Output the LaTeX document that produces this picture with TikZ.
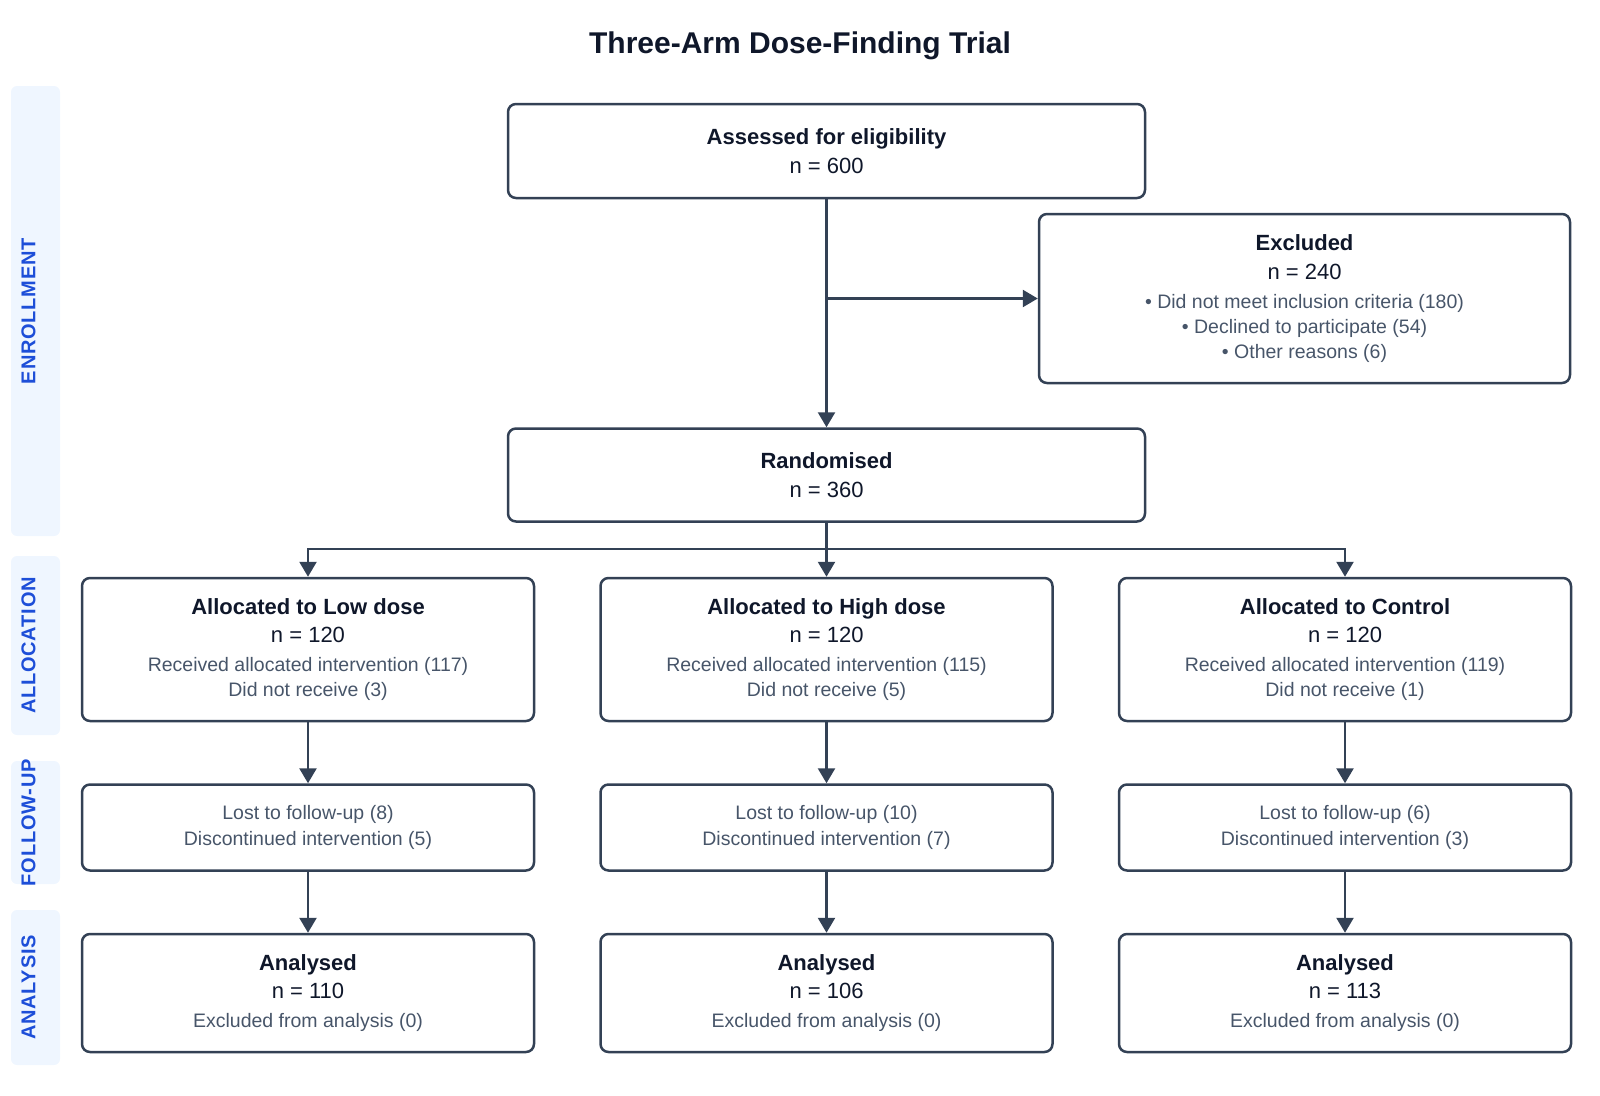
\documentclass[tikz,border=0pt]{standalone}
\usepackage{fontspec}
\setmainfont{Liberation Sans}
\newfontfamily\bandfont[LetterSpace=4]{Liberation Sans}
\definecolor{BoxLine}{RGB}{51,65,85}
\definecolor{HeadInk}{RGB}{15,23,42}
\definecolor{NoteInk}{RGB}{71,85,105}
\definecolor{BandFill}{RGB}{239,246,255}
\definecolor{BandInk}{RGB}{29,78,216}
\usetikzlibrary{arrows.meta,positioning}
\newcommand{\boxnote}[1]{{\color{NoteInk}\fontsize{19.5}{25.5}\selectfont #1}}

\begin{document}
\begin{tikzpicture}[
      x=1pt, y=-1pt,
      node distance=61pt and 64pt,
      every node/.style={font=\fontsize{22}{28.6}\selectfont, text=HeadInk},
      box/.style={rectangle, draw=BoxLine, line width=2.5pt, rounded corners=8pt,
                  align=center, inner sep=0pt},
      armbox/.style={box, minimum width=452pt, minimum height=143pt},
      fubox/.style={box, minimum width=452pt, minimum height=86pt, text=NoteInk,
                    font=\fontsize{19.5}{25.5}\selectfont},
      anbox/.style={box, minimum width=452pt, minimum height=118pt},
      band/.style={rectangle, fill=BandFill, rounded corners=6pt, minimum width=49pt},
      bandtext/.style={rotate=90, text=BandInk, font=\bandfont\fontsize{20}{24}\selectfont\bfseries},
      arr/.style={-{Triangle[length=15pt, width=17pt]}, line width=2.5pt, BoxLine}
    ]
      \useasboundingbox (0,0) rectangle (1600,1095);

      % phase bands
      \node[band, minimum height=450pt] (enroll) at (35.5,311) {};
      \node[band, minimum height=179pt] (alloc) at (35.5,645.5) {};
      \node[band, minimum height=123pt] (follow) at (35.5,822.5) {};
      \node[band, minimum height=155pt] (anal) at (35.5,987.5) {};
      \node[bandtext] (enrolltxt) at ([xshift=-7pt]enroll.center) {ENROLLMENT};
      \node[bandtext] (alloctxt) at ([xshift=-7pt]alloc.center) {ALLOCATION};
      \node[bandtext] (followtxt) at ([xshift=-7pt]follow.center) {FOLLOW-UP};
      \node[bandtext] (analtxt) at ([xshift=-7pt]anal.center) {ANALYSIS};

      \node[font=\fontsize{30}{36}\selectfont\bfseries] (title) at (800,46) {Three-Arm Dose-Finding Trial};

      \node[box, minimum width=637pt, minimum height=94pt] (assess) at (826.5,151)
        {\textbf{Assessed for eligibility}\\n = 600};
      \node[box, minimum width=531pt, minimum height=169pt] (excl) at (1304.5,298.5)
        {\textbf{Excluded}\\n = 240\\\boxnote{• Did not meet inclusion criteria (180)}\\[-3.6pt]
         \boxnote{• Declined to participate (54)}\\[-3.6pt]\boxnote{• Other reasons (6)}};
      \node[box, minimum width=637pt, minimum height=93pt, below=228pt of assess] (rand)
        {\textbf{Randomised}\\n = 360};

      \node[armbox, below=54pt of rand] (high)
        {\textbf{Allocated to High dose}\\n = 120\\\boxnote{Received allocated intervention (115)}\\[-3.6pt]\boxnote{Did not receive (5)}};
      \node[armbox, left=of high] (low)
        {\textbf{Allocated to Low dose}\\n = 120\\\boxnote{Received allocated intervention (117)}\\[-3.6pt]\boxnote{Did not receive (3)}};
      \node[armbox, right=of high] (ctrl)
        {\textbf{Allocated to Control}\\n = 120\\\boxnote{Received allocated intervention (119)}\\[-3.6pt]\boxnote{Did not receive (1)}};

      \node[fubox, below=of low] (lowfu) {Lost to follow-up (8)\\Discontinued intervention (5)};
      \node[fubox, below=of high] (highfu) {Lost to follow-up (10)\\Discontinued intervention (7)};
      \node[fubox, below=of ctrl] (ctrlfu) {Lost to follow-up (6)\\Discontinued intervention (3)};

      \node[anbox, below=of lowfu] (lowan) {\textbf{Analysed}\\n = 110\\\boxnote{Excluded from analysis (0)}};
      \node[anbox, below=of highfu] (highan) {\textbf{Analysed}\\n = 106\\\boxnote{Excluded from analysis (0)}};
      \node[anbox, below=of ctrlfu] (ctrlan) {\textbf{Analysed}\\n = 113\\\boxnote{Excluded from analysis (0)}};

      \coordinate (split) at (assess.south |- excl.west);
      \coordinate (branch) at ([yshift=-26pt]rand.south);

      \draw[arr] (assess) -- (rand);
      \draw[arr] (split) -- (excl.west);
      \draw[arr] (rand) -- (high);
      \draw[arr] (branch) -| (low.north);
      \draw[arr] (branch) -| (ctrl.north);

      \draw[arr] (low) -- (lowfu);
      \draw[arr] (high) -- (highfu);
      \draw[arr] (ctrl) -- (ctrlfu);
      \draw[arr] (lowfu) -- (lowan);
      \draw[arr] (highfu) -- (highan);
      \draw[arr] (ctrlfu) -- (ctrlan);
    \end{tikzpicture}
\end{document}
